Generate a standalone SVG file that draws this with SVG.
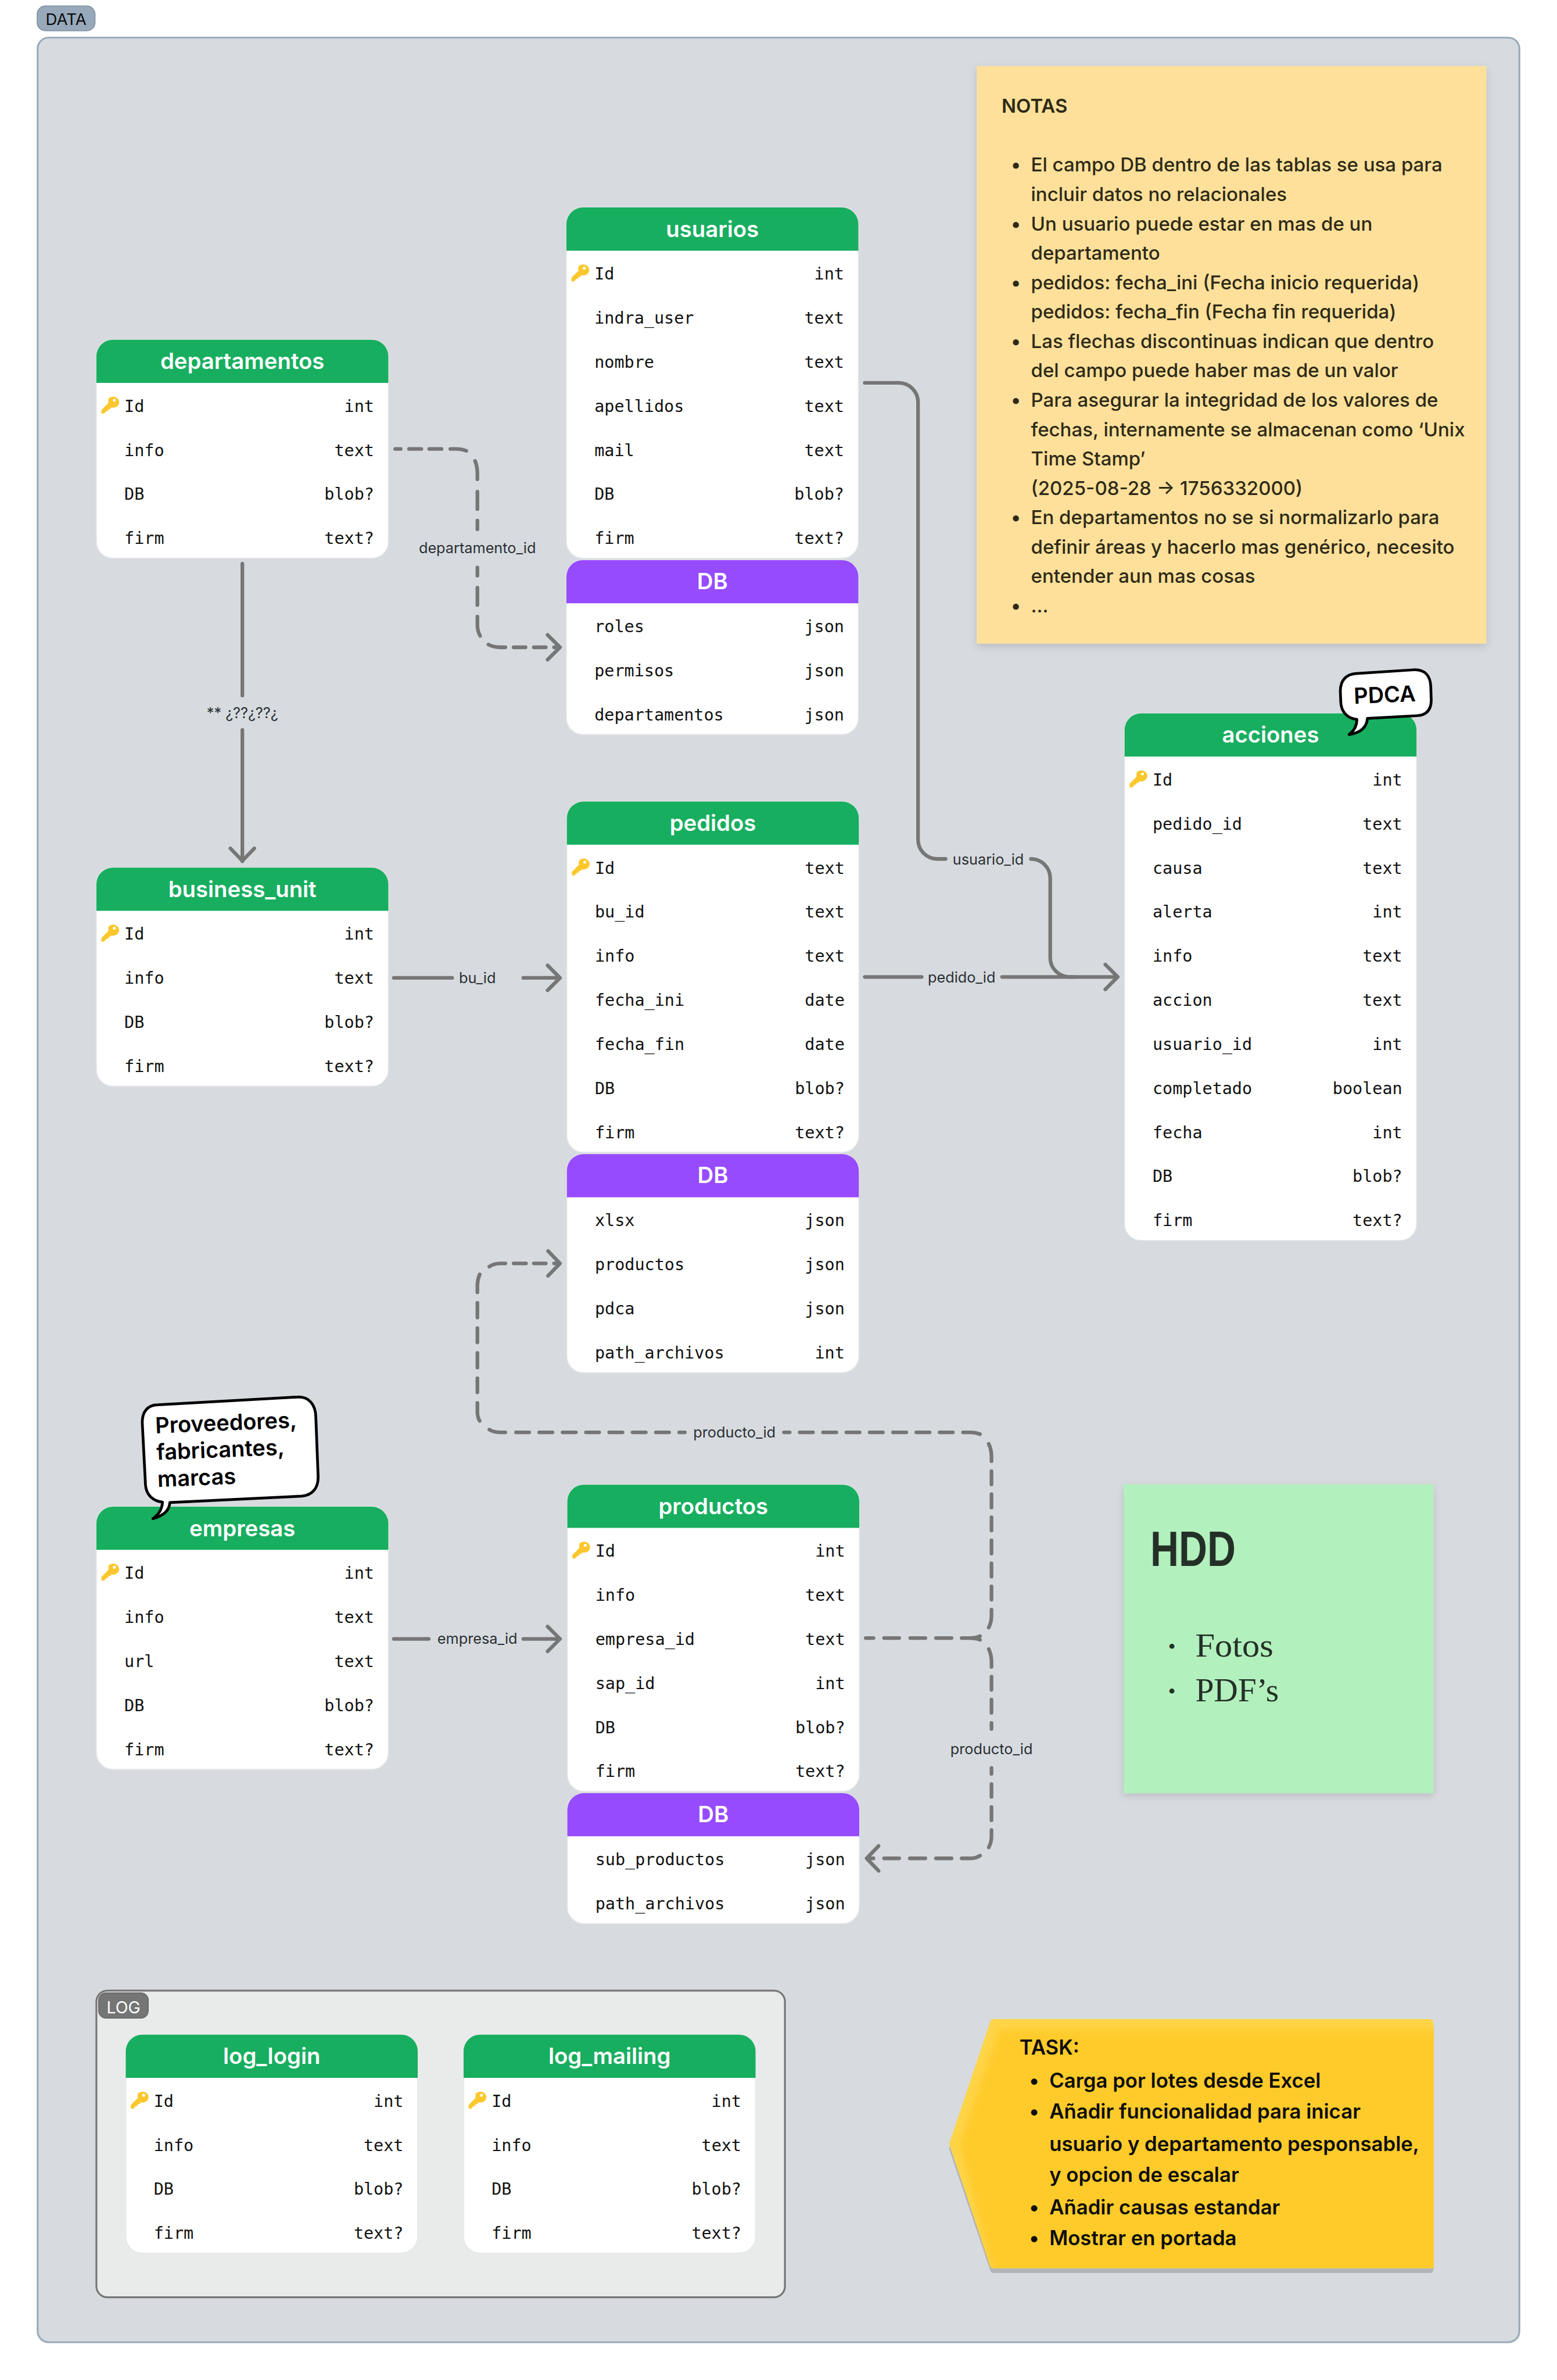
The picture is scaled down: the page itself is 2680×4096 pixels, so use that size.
<svg xmlns="http://www.w3.org/2000/svg" width="2680" height="4096" viewBox="0 0 2680 4096">
<style>
.sans{font-family:"Inter","Liberation Sans",sans-serif}
.n{font-family:"DejaVu Sans Mono","Liberation Mono",monospace;font-size:36px;fill:#111}
.r{text-anchor:end}
.tt{font-family:"Inter","Liberation Sans",sans-serif;font-size:48.5px;font-weight:600;fill:#fff;text-anchor:middle}
.body{fill:#fff;stroke:#e6e7e9;stroke-width:2}
.g{fill:#17ae5f}.p{fill:#964bff}
.c{fill:none;stroke:#767676;stroke-width:8;stroke-linecap:round;stroke-linejoin:round}
.d1{stroke-dasharray:29 21.8}.d2{stroke-dasharray:29 21.2}
.lb{font-family:"Inter","Liberation Sans",sans-serif;font-size:32px;fill:#2b2f33;text-anchor:middle}
.nt{font-family:"Inter","Liberation Sans",sans-serif;font-size:41.8px;font-weight:500;fill:#2e2a17}
.ts{font-family:"Inter","Liberation Sans",sans-serif;font-size:44px;font-weight:600;fill:#0d0d0d}
.cl{fill:#fff;stroke:#000;stroke-width:6;stroke-linejoin:round}
.ct{font-family:"Inter","Liberation Sans",sans-serif;font-size:48px;font-weight:600;fill:#000}
.hd{fill:#243027}
</style>
<defs>
<path id="h" d="M0 94V36A36 36 0 0 1 36 0H600A36 36 0 0 1 636 36V94Z"/>
<g id="k"><path fill="#fcc72c" d="M15 5A13 12 0 1 1 27 24H20V27H15V31H10V34H7V37H0V29L15 14Z"/><circle cx="28" cy="8" r="3.2" fill="#fff"/></g>
<filter id="sh" x="-10%" y="-10%" width="120%" height="120%"><feDropShadow dx="0" dy="6" stdDeviation="8" flood-color="#000" flood-opacity=".14"/></filter>
<filter id="bl" x="-10%" y="-10%" width="120%" height="120%"><feGaussianBlur stdDeviation="9"/></filter>
</defs>
<g transform="scale(0.79009)">
<rect width="3392" height="5184" fill="#fff"/>
<g id="frame-data">
<rect x="82" y="82" width="3228" height="5020" rx="24" fill="#d7dbdf" stroke="#98aabb" stroke-width="4"/>
<rect x="81" y="13" width="126" height="54" rx="18" fill="#97a9ba" stroke="#7f909f" stroke-width="2"/>
<text class="sans" x="144" y="55" font-size="35" text-anchor="middle" fill="#0a0a0a">DATA</text>
</g>
<g id="note-notas">
<rect x="2128" y="144" width="1110" height="1258" fill="#fee09a" filter="url(#sh)"/>
<text class="nt" x="2182" y="246" style="font-weight:600">NOTAS</text>
<text class="nt" x="2213" y="374" text-anchor="middle">•</text><text class="nt" x="2246" y="374">El campo DB dentro de las tablas se usa para</text>
<text class="nt" x="2246" y="438">incluir datos no relacionales</text>
<text class="nt" x="2213" y="502" text-anchor="middle">•</text><text class="nt" x="2246" y="502">Un usuario puede estar en mas de un</text>
<text class="nt" x="2246" y="566">departamento</text>
<text class="nt" x="2213" y="630" text-anchor="middle">•</text><text class="nt" x="2246" y="630">pedidos: fecha_ini (Fecha inicio requerida)</text>
<text class="nt" x="2246" y="694">pedidos: fecha_fin (Fecha fin requerida)</text>
<text class="nt" x="2213" y="758" text-anchor="middle">•</text><text class="nt" x="2246" y="758">Las flechas discontinuas indican que dentro</text>
<text class="nt" x="2246" y="822">del campo puede haber mas de un valor</text>
<text class="nt" x="2213" y="886" text-anchor="middle">•</text><text class="nt" x="2246" y="886">Para asegurar la integridad de los valores de</text>
<text class="nt" x="2246" y="950">fechas, internamente se almacenan como ‘Unix</text>
<text class="nt" x="2246" y="1014">Time Stamp’</text>
<text class="nt" x="2246" y="1078">(2025-08-28 → 1756332000)</text>
<text class="nt" x="2213" y="1142" text-anchor="middle">•</text><text class="nt" x="2246" y="1142">En departamentos no se si normalizarlo para</text>
<text class="nt" x="2246" y="1206">definir áreas y hacerlo mas genérico, necesito</text>
<text class="nt" x="2246" y="1270">entender aun mas cosas</text>
<text class="nt" x="2213" y="1334" text-anchor="middle">•</text><text class="nt" x="2246" y="1334">...</text>
</g>
<g id="note-hdd">
<rect x="2448" y="3233" width="675" height="673" fill="#b2f0bd" filter="url(#sh)"/>
<text class="hd" x="2506" y="3411.5" font-family="Liberation Sans, sans-serif" font-weight="700" font-size="107" textLength="186" lengthAdjust="spacingAndGlyphs">HDD</text>
<text class="hd" x="2553" y="3602" font-family="Liberation Serif, serif" font-size="46" text-anchor="middle">•</text>
<text class="hd" x="2604" y="3608" font-family="Liberation Serif, serif" font-size="73" textLength="170" lengthAdjust="spacingAndGlyphs">Fotos</text>
<text class="hd" x="2553" y="3700" font-family="Liberation Serif, serif" font-size="46" text-anchor="middle">•</text>
<text class="hd" x="2604" y="3706" font-family="Liberation Serif, serif" font-size="73" textLength="182" lengthAdjust="spacingAndGlyphs">PDF’s</text>
</g>
<g id="task">
<path d="M2165 4416H3115V4941H2165L2076 4678Z" fill="#b1b5b9" stroke="#b1b5b9" stroke-width="16" stroke-linejoin="round" transform="translate(0,2)"/>
<path d="M2165 4406H3115V4933H2165L2076 4670Z" fill="#ffd54a" stroke="#ffd54a" stroke-width="16" stroke-linejoin="round"/>
<clipPath id="tc"><path d="M2157 4398H3124V4941H2157L2068 4670Z"/></clipPath>
<g clip-path="url(#tc)"><path d="M2176 4420H3200V5000H2176L2090 4670Z" fill="#ffcb29" filter="url(#bl)"/></g>
<text class="ts" x="2221" y="4476">TASK:</text>
<text class="ts" x="2253" y="4547" text-anchor="middle">•</text><text class="ts" x="2286" y="4547">Carga por lotes desde Excel</text>
<text class="ts" x="2253" y="4615" text-anchor="middle">•</text><text class="ts" x="2286" y="4615">Añadir funcionalidad para inicar</text>
<text class="ts" x="2286" y="4685">usuario y departamento pesponsable,</text>
<text class="ts" x="2286" y="4753">y opcion de escalar</text>
<text class="ts" x="2253" y="4823" text-anchor="middle">•</text><text class="ts" x="2286" y="4823">Añadir causas estandar</text>
<text class="ts" x="2253" y="4891" text-anchor="middle">•</text><text class="ts" x="2286" y="4891">Mostrar en portada</text>
</g>
<g id="frame-log">
<rect x="210" y="4336" width="1500" height="668" rx="24" fill="#e9eaea" stroke="#767676" stroke-width="4"/>
<rect x="215" y="4341" width="108" height="55" rx="16" fill="#757575" stroke="#666" stroke-width="2"/>
<text class="sans" x="269" y="4385" font-size="36" text-anchor="middle" fill="#fff">LOG</text>
</g>
<g id="connectors">
<g id="c-departamento">
<path class="c" d="M861 978H873M891 978H918M935 978H962M981 978H992Q1006 978 1016 982M1035 1004Q1040 1016 1040 1032V1044M1040 1071V1109M1040 1134V1153M1040 1236V1254M1040 1280V1318M1040 1343V1360Q1040 1375 1046 1385M1064 1404Q1075 1410 1090 1410H1101M1119 1410H1145M1163 1410H1189M1207 1410H1218M1193 1383L1220 1410L1193 1437"/>
<text class="lb" x="1040" y="1205">departamento_id</text>
</g>
<g id="c-bu-rel">
<path class="c" d="M528 1228V1515M528 1590V1876M502 1848L528 1875L554 1848"/>
<text class="lb" x="528" y="1564">** ¿??¿??¿</text>
</g>
<g id="c-bu">
<path class="c" d="M858 2130H985M1140 2130H1220M1193 2103L1220 2130L1193 2157"/>
<text class="lb" x="1040" y="2141">bu_id</text>
</g>
<g id="c-pedido">
<path class="c" d="M1884 2128H2008M2183 2128H2435M2408 2101L2435 2128L2408 2155"/>
<text class="lb" x="2095" y="2140">pedido_id</text>
</g>
<g id="c-usuario">
<path class="c" d="M1884 834H1958A42 42 0 0 1 2000 876V1829A42 42 0 0 0 2042 1871H2060M2246 1871A42 42 0 0 1 2288 1913V2086A42 42 0 0 0 2330 2128H2340"/>
<text class="lb" x="2153" y="1883">usuario_id</text>
</g>
<g id="c-empresa">
<path class="c" d="M858 3570H934M1140 3570H1220M1193 3543L1220 3570L1193 3597"/>
<text class="lb" x="1040" y="3581">empresa_id</text>
</g>
<g id="c-producto-db">
<path class="c" d="M1886 3568H1903M1926 3568H1959M1983 3568H2016M2039 3568H2073M2095 3568H2112Q2126 3568 2135 3564M2112 3568Q2126 3568 2135 3572"/>
<path class="c d2" d="M2160 3204.5V3490"/>
<path class="c" d="M2160 3506V3520Q2160 3534 2154 3545M2154 3145Q2160 3158 2160 3172V3183M2098 3120H2112Q2126 3120 2135 3124"/>
<path class="c d1" d="M2076 3120H1708"/>
<text class="lb" x="1600" y="3131">producto_id</text>
<path class="c d1" d="M1124 3120H1492"/>
<path class="c" d="M1066 3114Q1076 3120 1090 3120H1101M1040 3056V3075Q1040 3087 1045 3095M1040 3002V3033M1040 2947V2979M1040 2893V2924M1040 2838V2870M1045 2776Q1040 2788 1040 2800V2815M1066 2759Q1076 2752 1090 2752H1101M1119 2752H1146M1163 2752H1189M1207 2752H1218M1194 2725L1220 2752L1194 2779"/>
</g>
<g id="c-producto-sub">
<path class="c" d="M2154 3592Q2160 3605 2160 3619V3631M2160 3652V3681M2160 3702V3731M2160 3753V3766M2160 3851V3864M2160 3886V3914M2160 3936V3965M2160 3986V4000Q2160 4014 2154 4024M2135 4042Q2126 4048 2112 4048H2095M2073 4048H2039M2016 4048H1982M1959 4048H1926M1903 4048H1892M1914 4021L1888 4048L1914 4075"/>
<text class="lb" x="2160" y="3821">producto_id</text>
</g>
</g>
<g id="t-usuarios" transform="translate(1234,452)">
<rect class="body" width="636" height="764" rx="36"/><use href="#h" class="g"/>
<text class="tt" x="318" y="64">usuarios</text><use href="#k" x="11" y="124"/>
<text class="n" x="61" y="157">Id</text><text class="n r" x="605" y="157">int</text>
<text class="n" x="61" y="253">indra_user</text><text class="n r" x="605" y="253">text</text>
<text class="n" x="61" y="349">nombre</text><text class="n r" x="605" y="349">text</text>
<text class="n" x="61" y="445">apellidos</text><text class="n r" x="605" y="445">text</text>
<text class="n" x="61" y="541">mail</text><text class="n r" x="605" y="541">text</text>
<text class="n" x="61" y="637">DB</text><text class="n r" x="605" y="637">blob?</text>
<text class="n" x="61" y="733">firm</text><text class="n r" x="605" y="733">text?</text>
</g>
<g id="t-usuarios-db" transform="translate(1234,1220)">
<rect class="body" width="636" height="380" rx="36"/><use href="#h" class="p"/>
<text class="tt" x="318" y="63">DB</text>
<text class="n" x="61" y="157">roles</text><text class="n r" x="605" y="157">json</text>
<text class="n" x="61" y="253">permisos</text><text class="n r" x="605" y="253">json</text>
<text class="n" x="61" y="349">departamentos</text><text class="n r" x="605" y="349">json</text>
</g>
<g id="t-departamentos" transform="translate(210,740)">
<rect class="body" width="636" height="476" rx="36"/><use href="#h" class="g"/>
<text class="tt" x="318" y="64">departamentos</text><use href="#k" x="11" y="124"/>
<text class="n" x="61" y="157">Id</text><text class="n r" x="605" y="157">int</text>
<text class="n" x="61" y="253">info</text><text class="n r" x="605" y="253">text</text>
<text class="n" x="61" y="349">DB</text><text class="n r" x="605" y="349">blob?</text>
<text class="n" x="61" y="445">firm</text><text class="n r" x="605" y="445">text?</text>
</g>
<g id="t-business_unit" transform="translate(210,1890)">
<rect class="body" width="636" height="476" rx="36"/><use href="#h" class="g"/>
<text class="tt" x="318" y="64">business_unit</text><use href="#k" x="11" y="124"/>
<text class="n" x="61" y="157">Id</text><text class="n r" x="605" y="157">int</text>
<text class="n" x="61" y="253">info</text><text class="n r" x="605" y="253">text</text>
<text class="n" x="61" y="349">DB</text><text class="n r" x="605" y="349">blob?</text>
<text class="n" x="61" y="445">firm</text><text class="n r" x="605" y="445">text?</text>
</g>
<g id="t-pedidos" transform="translate(1235,1746)">
<rect class="body" width="636" height="764" rx="36"/><use href="#h" class="g"/>
<text class="tt" x="318" y="64">pedidos</text><use href="#k" x="11" y="124"/>
<text class="n" x="61" y="157">Id</text><text class="n r" x="605" y="157">text</text>
<text class="n" x="61" y="253">bu_id</text><text class="n r" x="605" y="253">text</text>
<text class="n" x="61" y="349">info</text><text class="n r" x="605" y="349">text</text>
<text class="n" x="61" y="445">fecha_ini</text><text class="n r" x="605" y="445">date</text>
<text class="n" x="61" y="541">fecha_fin</text><text class="n r" x="605" y="541">date</text>
<text class="n" x="61" y="637">DB</text><text class="n r" x="605" y="637">blob?</text>
<text class="n" x="61" y="733">firm</text><text class="n r" x="605" y="733">text?</text>
</g>
<g id="t-pedidos-db" transform="translate(1235,2514)">
<rect class="body" width="636" height="476" rx="36"/><use href="#h" class="p"/>
<text class="tt" x="318" y="63">DB</text>
<text class="n" x="61" y="157">xlsx</text><text class="n r" x="605" y="157">json</text>
<text class="n" x="61" y="253">productos</text><text class="n r" x="605" y="253">json</text>
<text class="n" x="61" y="349">pdca</text><text class="n r" x="605" y="349">json</text>
<text class="n" x="61" y="445">path_archivos</text><text class="n r" x="605" y="445">int</text>
</g>
<g id="t-acciones" transform="translate(2450,1554)">
<rect class="body" width="636" height="1148" rx="36"/><use href="#h" class="g"/>
<text class="tt" x="318" y="64">acciones</text><use href="#k" x="11" y="124"/>
<text class="n" x="61" y="157">Id</text><text class="n r" x="605" y="157">int</text>
<text class="n" x="61" y="253">pedido_id</text><text class="n r" x="605" y="253">text</text>
<text class="n" x="61" y="349">causa</text><text class="n r" x="605" y="349">text</text>
<text class="n" x="61" y="445">alerta</text><text class="n r" x="605" y="445">int</text>
<text class="n" x="61" y="541">info</text><text class="n r" x="605" y="541">text</text>
<text class="n" x="61" y="637">accion</text><text class="n r" x="605" y="637">text</text>
<text class="n" x="61" y="733">usuario_id</text><text class="n r" x="605" y="733">int</text>
<text class="n" x="61" y="829">completado</text><text class="n r" x="605" y="829">boolean</text>
<text class="n" x="61" y="925">fecha</text><text class="n r" x="605" y="925">int</text>
<text class="n" x="61" y="1021">DB</text><text class="n r" x="605" y="1021">blob?</text>
<text class="n" x="61" y="1117">firm</text><text class="n r" x="605" y="1117">text?</text>
</g>
<g id="t-empresas" transform="translate(210,3282)">
<rect class="body" width="636" height="572" rx="36"/><use href="#h" class="g"/>
<text class="tt" x="318" y="64">empresas</text><use href="#k" x="11" y="124"/>
<text class="n" x="61" y="157">Id</text><text class="n r" x="605" y="157">int</text>
<text class="n" x="61" y="253">info</text><text class="n r" x="605" y="253">text</text>
<text class="n" x="61" y="349">url</text><text class="n r" x="605" y="349">text</text>
<text class="n" x="61" y="445">DB</text><text class="n r" x="605" y="445">blob?</text>
<text class="n" x="61" y="541">firm</text><text class="n r" x="605" y="541">text?</text>
</g>
<g id="t-productos" transform="translate(1236,3234)">
<rect class="body" width="636" height="668" rx="36"/><use href="#h" class="g"/>
<text class="tt" x="318" y="64">productos</text><use href="#k" x="11" y="124"/>
<text class="n" x="61" y="157">Id</text><text class="n r" x="605" y="157">int</text>
<text class="n" x="61" y="253">info</text><text class="n r" x="605" y="253">text</text>
<text class="n" x="61" y="349">empresa_id</text><text class="n r" x="605" y="349">text</text>
<text class="n" x="61" y="445">sap_id</text><text class="n r" x="605" y="445">int</text>
<text class="n" x="61" y="541">DB</text><text class="n r" x="605" y="541">blob?</text>
<text class="n" x="61" y="637">firm</text><text class="n r" x="605" y="637">text?</text>
</g>
<g id="t-productos-db" transform="translate(1236,3906)">
<rect class="body" width="636" height="284" rx="36"/><use href="#h" class="p"/>
<text class="tt" x="318" y="63">DB</text>
<text class="n" x="61" y="157">sub_productos</text><text class="n r" x="605" y="157">json</text>
<text class="n" x="61" y="253">path_archivos</text><text class="n r" x="605" y="253">json</text>
</g>
<g id="t-log_login" transform="translate(274,4432)">
<rect class="body" width="636" height="476" rx="36"/><use href="#h" class="g"/>
<text class="tt" x="318" y="64">log_login</text><use href="#k" x="11" y="124"/>
<text class="n" x="61" y="157">Id</text><text class="n r" x="605" y="157">int</text>
<text class="n" x="61" y="253">info</text><text class="n r" x="605" y="253">text</text>
<text class="n" x="61" y="349">DB</text><text class="n r" x="605" y="349">blob?</text>
<text class="n" x="61" y="445">firm</text><text class="n r" x="605" y="445">text?</text>
</g>
<g id="t-log_mailing" transform="translate(1010,4432)">
<rect class="body" width="636" height="476" rx="36"/><use href="#h" class="g"/>
<text class="tt" x="318" y="64">log_mailing</text><use href="#k" x="11" y="124"/>
<text class="n" x="61" y="157">Id</text><text class="n r" x="605" y="157">int</text>
<text class="n" x="61" y="253">info</text><text class="n r" x="605" y="253">text</text>
<text class="n" x="61" y="349">DB</text><text class="n r" x="605" y="349">blob?</text>
<text class="n" x="61" y="445">firm</text><text class="n r" x="605" y="445">text?</text>
</g>
<g id="callout-pdca">
<path class="cl" d="M2955 1467L3080 1459C3104 1458 3116 1472 3117 1495L3118 1525C3118 1548 3106 1558 3086 1559L2979 1565C2978 1585 2962 1597 2939 1600C2950 1592 2956 1582 2956 1567C2935 1565 2922 1550 2921 1530L2920 1505C2920 1480 2935 1468 2955 1467Z"/>
<text class="ct" x="2950" y="1533" transform="rotate(-2.3 2950 1533)">PDCA</text>
</g>
<g id="callout-empresas">
<path class="cl" d="M345 3060L650 3043C674 3043 687 3060 688 3085L693 3215C694 3240 682 3257 657 3259L370 3273C369 3290 356 3302 333 3308C345 3300 353 3288 354 3272C335 3270 319 3258 317 3235L310 3100C309 3075 322 3060 345 3060Z"/>
<g transform="rotate(-2.3 339 3122)">
<text class="ct" x="339" y="3122">Proveedores,</text>
<text class="ct" x="339" y="3180">fabricantes,</text>
<text class="ct" x="339" y="3239">marcas</text>
</g>
</g>
</g>
</svg>
